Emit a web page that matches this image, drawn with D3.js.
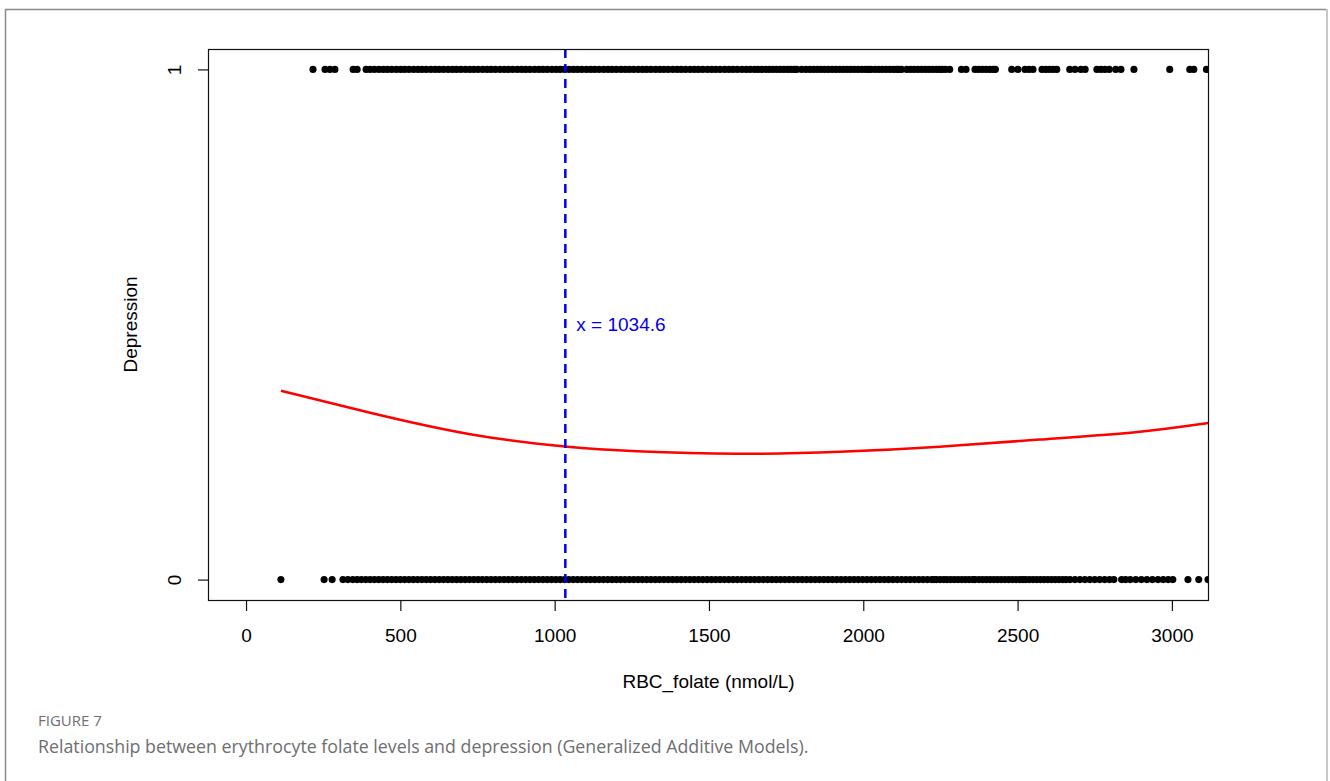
<!DOCTYPE html>
<html>
<head>
<meta charset="utf-8">
<script src="https://cdn.jsdelivr.net/npm/d3@7"></script>
<style>
  html, body { margin: 0; padding: 0; background: #fff; }
  svg { display: block; }
</style>
</head>
<body>
<svg id="chart" width="1330" height="781"></svg>
<script>
// RBC folate (nmol/L) of participants without depression (outcome = 0)
const folateNoDepression = [
  113, 253, 279, 314, 330, 346,
  360, 374, 388, 402, 416, 430, 444, 458, 472, 486, 500, 514, 528, 542, 556, 570, 584, 598, 612, 626,
  640, 654, 668, 682, 696, 710, 724, 738, 752, 766, 780, 794, 808, 822, 836, 850, 864, 878, 892, 906,
  920, 934, 948, 962, 976, 990, 1004, 1018, 1032, 1046, 1060, 1074, 1088, 1102, 1116, 1130, 1144, 1158,
  1172, 1186, 1200, 1214, 1228, 1242, 1256, 1270, 1284, 1298, 1312, 1326, 1340, 1354, 1368, 1382, 1396,
  1410, 1424, 1438, 1452, 1466, 1480, 1494, 1508, 1522, 1536, 1550, 1564, 1578, 1592, 1606, 1620, 1634,
  1648, 1662, 1676, 1690, 1704, 1718, 1732, 1746, 1760, 1774, 1788, 1802, 1816, 1830, 1844, 1858, 1872,
  1886, 1900, 1914, 1928, 1942, 1956, 1970, 1984, 1998, 2012, 2026, 2040, 2054, 2068, 2082, 2096, 2110,
  2124, 2138, 2152, 2166, 2180, 2194, 2208, 2222, 2229,
  2237, 2249, 2261,
  2271, 2283, 2295, 2307, 2319, 2331, 2343, 2355, 2362,
  2375, 2387, 2399, 2411, 2423, 2435, 2447, 2459, 2471, 2483, 2495, 2507, 2517,
  2526, 2538, 2550, 2562, 2574, 2586, 2598, 2610, 2622, 2634, 2646, 2657,
  2670, 2686, 2702, 2718, 2734, 2750, 2766, 2782, 2798, 2812,
  2837, 2850, 2865,
  2883, 2901, 2919, 2937, 2955, 2972, 2988, 3003,
  3052, 3087, 3117
];

// RBC folate (nmol/L) of participants with depression (outcome = 1)
const folateDepression = [
  217, 256, 272, 288, 347, 360,
  389, 402, 416, 431, 445, 458, 472, 487, 501, 514, 528, 543, 557, 570, 584, 599, 613, 626, 640, 655,
  669, 682, 696, 711, 725, 738, 752, 767, 781, 794, 808, 823, 837, 850, 864, 879, 893, 906, 920, 935,
  949, 962, 976, 991, 1005, 1018, 1032, 1047, 1061, 1074, 1088, 1103, 1117, 1130, 1144, 1159, 1173,
  1186, 1200, 1215, 1229, 1242, 1256, 1271, 1285, 1298, 1312, 1327, 1341, 1354, 1368, 1383, 1397, 1410,
  1424, 1439, 1453, 1466, 1480, 1495, 1509, 1522, 1536, 1551, 1565, 1578, 1592, 1607, 1621, 1634, 1648,
  1659, 1671, 1683, 1695, 1707, 1719, 1731, 1743, 1755, 1766, 1776,
  1784, 1800, 1814,
  1827, 1839, 1851, 1863, 1875, 1887, 1899, 1911, 1923, 1935, 1947, 1959, 1971, 1983, 1995, 2007, 2017, 2025,
  2038, 2050, 2062, 2074, 2086, 2098, 2108, 2115, 2124,
  2141, 2153, 2165, 2177, 2189, 2201, 2213, 2225, 2237, 2247, 2255,
  2266, 2280, 2318, 2333,
  2362, 2374, 2386, 2398, 2410, 2420, 2428,
  2481, 2501, 2524, 2537, 2550,
  2579, 2591, 2603, 2615, 2627,
  2669, 2686, 2705, 2719,
  2757, 2770, 2783, 2797, 2818, 2835, 2877,
  2993, 3058, 3071, 3112
];

// GAM fitted probability of depression along RBC folate
const fitFolate = [113, 402, 726, 1033, 1267, 1591, 1924, 2248, 2572, 2896, 3117, 3200];
const fitProb   = [0.370, 0.327, 0.285, 0.261, 0.2516, 0.2465, 0.2505, 0.2605, 0.2745, 0.290, 0.307, 0.313];

// Breakpoint marked on the fitted curve
const breakpoint = 1034.6;

// Axis ticks and labels
const xTicks = [0, 500, 1000, 1500, 2000, 2500, 3000];
const yTicks = [0, 1];
const xTitle = "RBC_folate (nmol/L)";
const yTitle = "Depression";
const figureLabel = "FIGURE 7";
const figureCaption = "Relationship between erythrocyte folate levels and depression (Generalized Additive Models).";

const svg = d3.select("#chart");
const plotFont = "'Liberation Sans', Arial, Helvetica, sans-serif";
const captionFont = "'Open Sans', 'Noto Sans', sans-serif";

// Panel frame
svg.append("path")
  .attr("d", "M5.5,781 L5.5,9.5 L1326.5,9.5")
  .attr("fill", "none").attr("stroke", "#8a8a8a").attr("stroke-width", 1.5);
svg.append("line")
  .attr("x1", 1327).attr("x2", 1327).attr("y1", 9).attr("y2", 781)
  .attr("stroke", "#c8c8c8").attr("stroke-width", 2);

const plot = { left: 209, top: 49, right: 1208, bottom: 600 };

const x = d3.scaleLinear().domain([-120, 3117]).range([plot.left, plot.right]);
const y = d3.scaleLinear().domain([-0.04, 1.04]).range([plot.bottom, plot.top]);

svg.append("defs").append("clipPath").attr("id", "plot-clip")
  .append("rect")
  .attr("x", plot.left).attr("y", plot.top)
  .attr("width", plot.right - plot.left).attr("height", plot.bottom - plot.top);

const inner = svg.append("g").attr("clip-path", "url(#plot-clip)");

// Observed outcomes
const points = folateNoDepression.map(v => ({ v, o: 0 }))
  .concat(folateDepression.map(v => ({ v, o: 1 })));
inner.append("g").selectAll("circle")
  .data(points)
  .join("circle")
  .attr("cx", d => x(d.v))
  .attr("cy", d => y(d.o))
  .attr("r", 3.55)
  .attr("fill", "#000");

// Fitted smooth
const fit = fitFolate.map((v, i) => [v, fitProb[i]]);
inner.append("path")
  .datum(fit)
  .attr("d", d3.line().x(d => x(d[0])).y(d => y(d[1])).curve(d3.curveNatural))
  .attr("fill", "none")
  .attr("stroke", "#ff0000")
  .attr("stroke-width", 2.5);

// Breakpoint line
inner.append("line")
  .attr("x1", x(breakpoint)).attr("x2", x(breakpoint))
  .attr("y1", plot.top).attr("y2", plot.bottom)
  .attr("stroke", "#0000ee")
  .attr("stroke-width", 2.5)
  .attr("stroke-dasharray", "9,6");

svg.append("text")
  .attr("x", x(breakpoint) + 11)
  .attr("y", y(0.5))
  .attr("dy", "0.35em")
  .attr("font-family", plotFont)
  .attr("font-size", 19)
  .attr("fill", "#0000ee")
  .text(`x = ${breakpoint}`);

// Plot box
svg.append("rect")
  .attr("x", plot.left - 0.5).attr("y", plot.top + 0.5)
  .attr("width", plot.right - plot.left + 1).attr("height", plot.bottom - plot.top)
  .attr("fill", "none").attr("stroke", "#111").attr("stroke-width", 1.2);

// X axis
const xAxis = svg.append("g")
  .attr("transform", `translate(0,${plot.bottom})`)
  .call(d3.axisBottom(x).tickValues(xTicks).tickSize(11).tickPadding(18).tickFormat(d3.format("d")));
xAxis.select(".domain").remove();
xAxis.selectAll("line").attr("stroke", "#111").attr("stroke-width", 1.2);
xAxis.selectAll("text")
  .attr("font-family", plotFont).attr("font-size", 19).attr("fill", "#000");

// Y axis
const yAxis = svg.append("g")
  .attr("transform", `translate(${plot.left},0)`)
  .call(d3.axisLeft(y).tickValues(yTicks).tickSize(11).tickFormat(d3.format("d")));
yAxis.select(".domain").remove();
yAxis.selectAll("line").attr("stroke", "#111").attr("stroke-width", 1.2);
yAxis.selectAll("text")
  .attr("x", null).attr("dy", null)
  .attr("transform", "translate(-28,0) rotate(-90)")
  .attr("text-anchor", "middle")
  .attr("font-family", plotFont).attr("font-size", 19).attr("fill", "#000");

// Axis titles
svg.append("text")
  .attr("x", (plot.left + plot.right) / 2)
  .attr("y", 688)
  .attr("text-anchor", "middle")
  .attr("font-family", plotFont).attr("font-size", 19).attr("fill", "#000")
  .text(xTitle);

svg.append("text")
  .attr("transform", `translate(137,${(plot.top + plot.bottom) / 2}) rotate(-90)`)
  .attr("text-anchor", "middle")
  .attr("font-family", plotFont).attr("font-size", 19).attr("fill", "#000")
  .text(yTitle);

// Figure caption
svg.append("text")
  .attr("x", 38).attr("y", 726)
  .attr("font-family", captionFont).attr("font-size", 15).attr("fill", "#6e6e6e")
  .text(figureLabel);

svg.append("text")
  .attr("x", 38).attr("y", 753)
  .attr("font-family", captionFont).attr("font-size", 17.8).attr("fill", "#6e6e6e")
  .text(figureCaption);
</script>
</body>
</html>
